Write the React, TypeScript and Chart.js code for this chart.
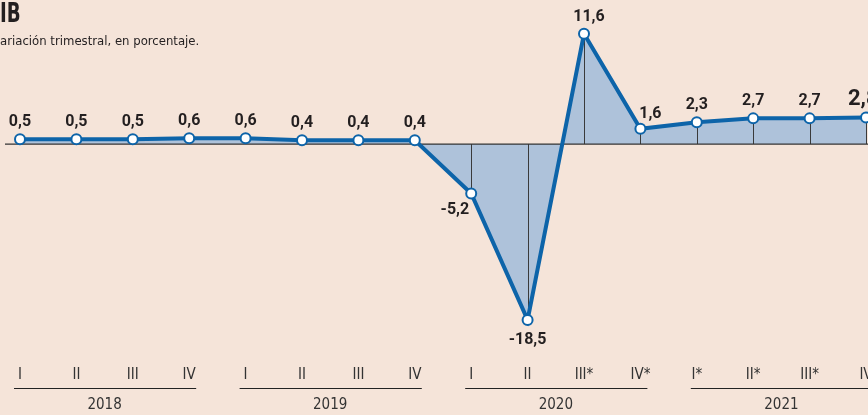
import React, { useEffect, useRef } from "react";
import { Chart, registerables } from "chart.js";

Chart.register(...registerables);

const quarters = ["I", "II", "III", "IV", "I", "II", "III", "IV", "I", "II", "III*", "IV*", "I*", "II*", "III*", "IV"];
const years = ["2018", "2019", "2020", "2021"];
const values = [0.5, 0.5, 0.5, 0.6, 0.6, 0.4, 0.4, 0.4, -5.2, -18.5, 11.6, 1.6, 2.3, 2.7, 2.7, 2.8];
const titleText = "IB";
const subtitleText = "ariación trimestral, en porcentaje.";

const BG = "#f5e4d9";
const LINE = "#0d64a9";
const FILL = "#aec2da";
const TEXT = "#231f20";
const COND = "'Liberation Sans Narrow', 'DejaVu Sans Condensed', 'Roboto', sans-serif";
const LABEL_FONT = "Roboto, 'DejaVu Sans Condensed', sans-serif";

const fmt = (v: number) => v.toFixed(1).replace(".", ",");

const customPlugin = {
  id: "custom",
  afterDatasetDraw(chart: any, args: any) {
    if (args.index !== 0) return;
    const ctx = chart.ctx;
    const x = chart.scales.x;
    const y = chart.scales.y;
    const y0 = y.getPixelForValue(0);
    ctx.save();
    ctx.strokeStyle = "#3a3a3a";
    ctx.lineWidth = 1;
    values.forEach((v, i) => {
      const px = Math.round(x.getPixelForValue(i)) + 0.5;
      ctx.beginPath();
      ctx.moveTo(px, y0);
      ctx.lineTo(px, y.getPixelForValue(v));
      ctx.stroke();
    });
    ctx.strokeStyle = "#333";
    ctx.lineWidth = 1.3;
    ctx.beginPath();
    ctx.moveTo(5, y0);
    ctx.lineTo(chart.width, y0);
    ctx.stroke();
    ctx.restore();
  },
  afterDatasetsDraw(chart: any) {
    const ctx = chart.ctx;
    const x = chart.scales.x;
    const y = chart.scales.y;
    ctx.save();
    ctx.fillStyle = TEXT;
    ctx.textBaseline = "middle";
    values.forEach((v, i) => {
      const px = x.getPixelForValue(i);
      const py = y.getPixelForValue(v);
      const last = i === values.length - 1;
      ctx.font = `bold ${last ? 22 : 16}px ${LABEL_FONT}`;
      ctx.textAlign = "center";
      let lx = px;
      let ly = py - (last ? 18 : 17);
      if (i === 10) {
        lx = px + 5;
        ly = py - 17;
      } else if (i === 11) {
        lx = px + 10;
        ly = py - 15;
      } else if (last) {
        ctx.textAlign = "left";
        lx = px - 18;
      }
      if (v < 0) {
        ly = py + 20;
        if (i === 8) {
          ctx.textAlign = "right";
          lx = px - 2;
          ly = py + 17;
        }
      }
      ctx.fillText(fmt(v), lx, ly);
    });
    // quarter labels
    ctx.textAlign = "center";
    ctx.font = `15px ${COND}`;
    ctx.fillStyle = "#333";
    quarters.forEach((q, i) => {
      ctx.fillText(q, x.getPixelForValue(i), 375);
    });
    // year groups
    years.forEach((yr, g) => {
      const a = x.getPixelForValue(g * 4) - 6;
      const b = Math.min(x.getPixelForValue(g * 4 + 3) + 7, chart.width);
      ctx.strokeStyle = "#222";
      ctx.lineWidth = 1;
      ctx.beginPath();
      ctx.moveTo(a, 388.5);
      ctx.lineTo(b, 388.5);
      ctx.stroke();
      const c = (x.getPixelForValue(g * 4) + x.getPixelForValue(g * 4 + 3)) / 2;
      ctx.fillText(yr, c, 405);
    });
    ctx.restore();
  },
};

export default function App() {
  const ref = useRef<HTMLCanvasElement>(null);
  useEffect(() => {
    const chart = new Chart(ref.current!, {
      type: "line",
      data: {
        labels: quarters.map((_, i) => String(i)),
        datasets: [
          {
            data: values,
            order: 1,
            borderWidth: 0,
            pointRadius: 0,
            fill: "origin",
            backgroundColor: FILL,
            tension: 0,
          },
          {
            data: values,
            order: 0,
            borderColor: LINE,
            borderWidth: 4,
            pointRadius: 5,
            pointBorderWidth: 2,
            pointBackgroundColor: "#ffffff",
            pointBorderColor: LINE,
            fill: false,
            tension: 0,
            clip: false as any,
          },
        ],
      },
      options: {
        animation: false,
        responsive: false,
        maintainAspectRatio: false,
        layout: { autoPadding: false, padding: { left: 20, right: 2, top: 0, bottom: 0 } },
        plugins: { legend: { display: false }, tooltip: { enabled: false }, title: { display: false } },
        scales: {
          x: { type: "category", display: false, offset: false },
          y: { type: "linear", display: false, min: -28.5, max: 15.15 },
        },
      },
      plugins: [customPlugin],
    });
    return () => chart.destroy();
  }, []);

  return (
    <div style={{ position: "fixed", left: 0, top: 0, width: 868, height: 415, background: BG, overflow: "hidden" }}>
      <canvas ref={ref} width={868} height={415} style={{ position: "absolute", left: 0, top: 0, width: 868, height: 415 }} />
      <div
        style={{
          position: "absolute",
          left: 0,
          top: -1,
          fontFamily: COND,
          fontWeight: "bold",
          fontSize: 27,
          color: TEXT,
          lineHeight: "28px",
          transform: "scaleX(0.75)",
          transformOrigin: "left top",
        }}
      >
        {titleText}
      </div>
      <div style={{ position: "absolute", left: 0, top: 32, fontFamily: COND, fontSize: 13, color: TEXT, lineHeight: "17px" }}>
        {subtitleText}
      </div>
    </div>
  );
}
